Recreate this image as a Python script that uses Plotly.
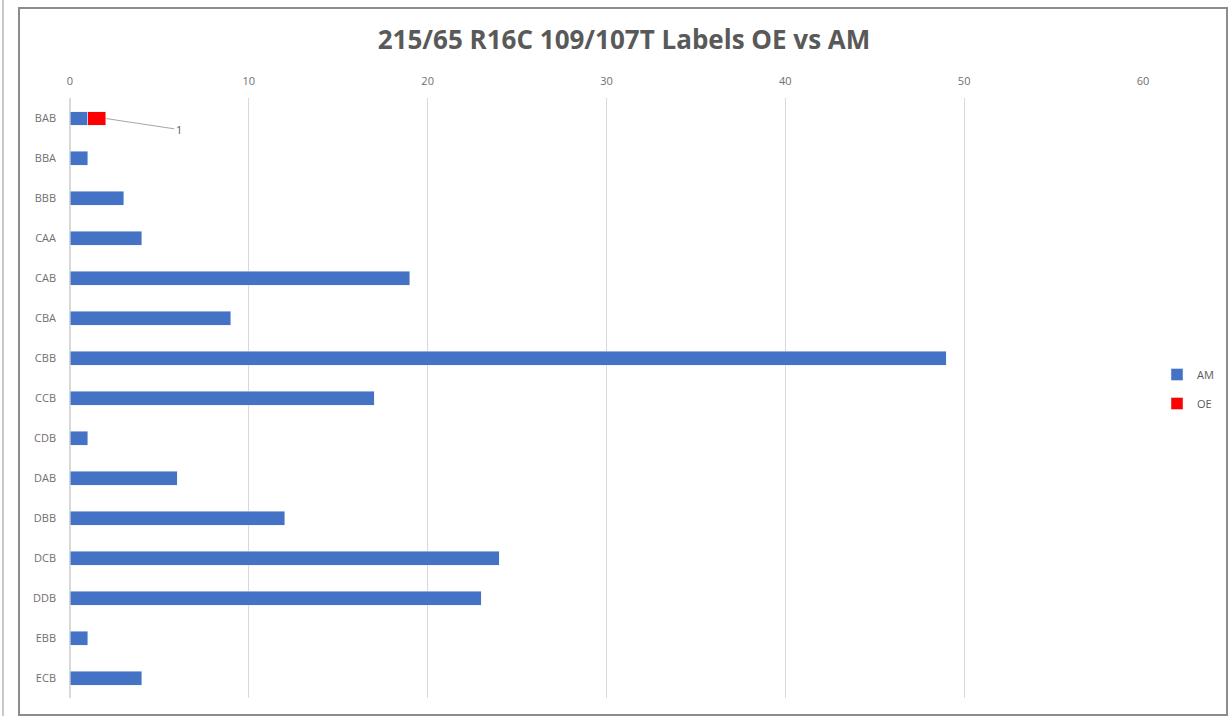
import plotly.graph_objects as go

categories = ["BAB", "BBA", "BBB", "CAA", "CAB", "CBA", "CBB", "CCB", "CDB",
              "DAB", "DBB", "DCB", "DDB", "EBB", "ECB"]
am_values = [1, 1, 3, 4, 19, 9, 49, 17, 1, 6, 12, 24, 23, 1, 4]
oe_values = [1, None, None, None, None, None, None, None, None, None, None, None, None, None, None]
x_ticks = [0, 10, 20, 30, 40, 50, 60]

W, H = 1230, 716
L, R, T, B = 70, 1143, 98, 698

def px(x):
    return (x - L) / (R - L)

def py(y):
    return (B - y) / (B - T)

fig = go.Figure()
fig.add_trace(go.Bar(y=categories, x=am_values, name="AM", orientation="h",
                     marker=dict(color="#4472C4"), width=0.35, legendgroup="AM"))
fig.add_trace(go.Bar(y=categories, x=oe_values, name="OE", orientation="h",
                     marker=dict(color="#FF0000"), width=0.35, legendgroup="OE"))

fig.add_annotation(x=am_values[0] + oe_values[0], y=categories[0], text=str(oe_values[0]),
                   showarrow=True, arrowhead=0, arrowwidth=1, arrowcolor="#a6a6a6",
                   ax=73, ay=11, font=dict(size=11, color="#595959"))

fig.update_layout(
    width=W, height=H,
    barmode="stack",
    margin=dict(l=L, r=W - R, t=T, b=H - B, autoexpand=False),
    paper_bgcolor="white", plot_bgcolor="white",
    font=dict(family="Open Sans", color="#595959"),
    title=dict(text="<b>215/65 R16C 109/107T Labels OE vs AM</b>", x=624 / W, xref="container",
               xanchor="center", y=1 - 40 / H, yanchor="middle",
               font=dict(size=26, color="#595959")),
    bargap=0.5,
    legend=dict(x=px(1157), y=py(389), xanchor="left", yanchor="middle",
                font=dict(size=11, color="#595959"), itemwidth=30,
                traceorder="grouped", tracegroupgap=10, bgcolor="rgba(0,0,0,0)"),
    showlegend=True,
    xaxis=dict(side="top", range=[0, 60], tickvals=x_ticks, showgrid=True,
               gridcolor="#d9d9d9", gridwidth=1, zeroline=True, zerolinecolor="#d9d9d9",
               showline=False, tickfont=dict(size=11, color="#6f6f6f"),
               ticklabelstandoff=10, fixedrange=True),
    yaxis=dict(autorange="reversed", showgrid=False, showline=False,
               tickfont=dict(size=11, color="#6f6f6f"), ticklabelstandoff=13),
    shapes=[
        dict(type="rect", xref="paper", yref="paper", x0=px(19), x1=px(1227),
             y0=py(715), y1=py(8), line=dict(color="#8c8c8c", width=2), layer="below"),
        dict(type="line", xref="paper", yref="paper", x0=px(3), x1=px(3),
             y0=py(716), y1=py(0), line=dict(color="#c8c8c8", width=2)),
    ],
)

fig.write_html("out.html")
